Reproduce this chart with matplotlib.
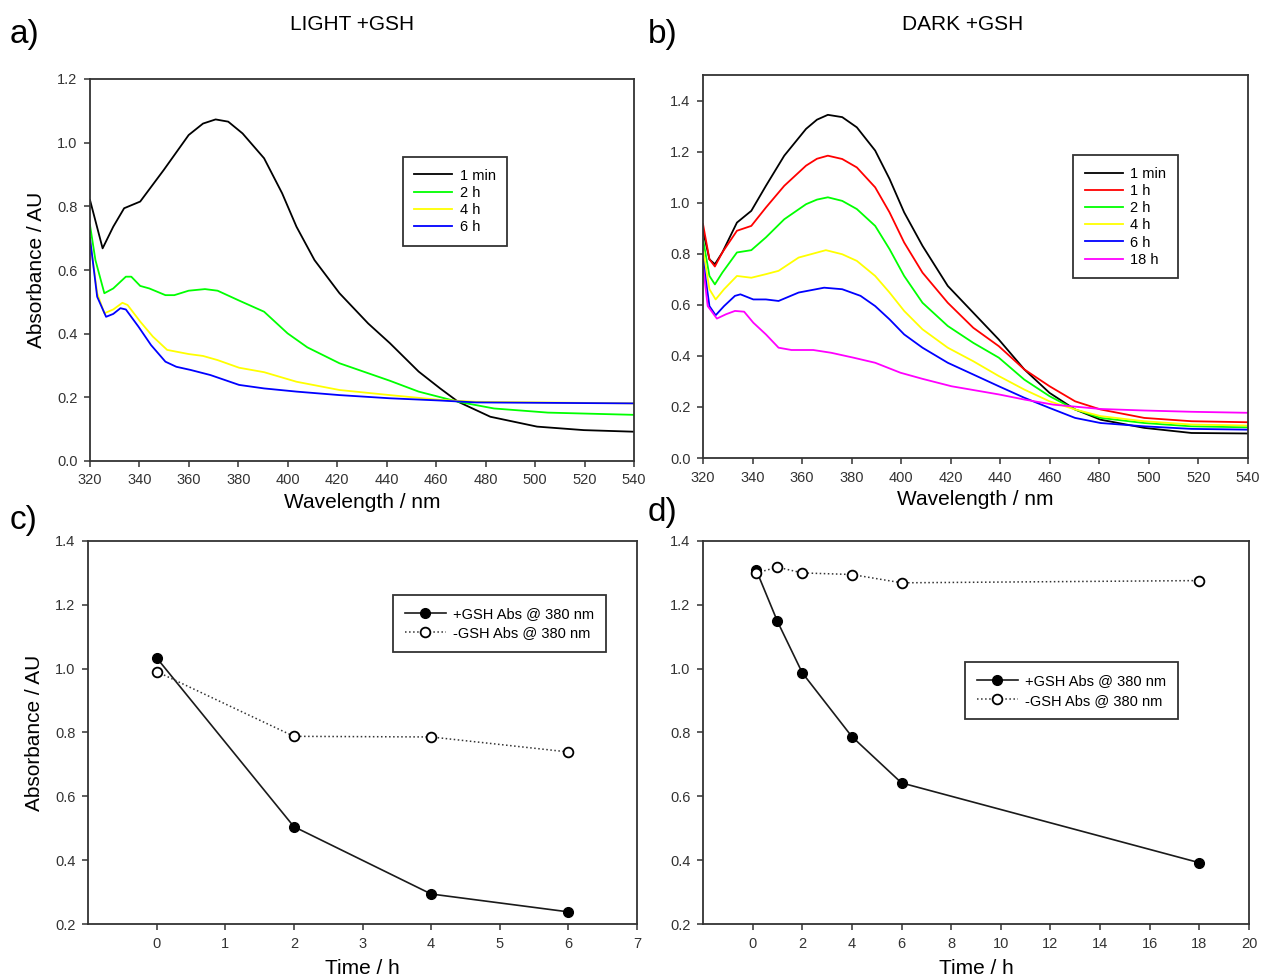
#! /usr/bin/env python3

#A program for plotting the GSH absorbance spectra and the 380 nm decay.

import matplotlib
matplotlib.use('Agg')
import matplotlib.pyplot as plt

#Panel a) LIGHT +GSH spectra.
lightWl1min = [320, 325.1, 329.4, 333.8, 340.3, 349.8, 359.9, 365.7, 370.8, 375.9, 381.7, 390.4,
               397.7, 403.5, 410.8, 420.9, 432.5, 441.3, 452.9, 461.6, 468.9, 481.9, 500.8,
               519.7, 540]
lightAbs1min = [0.82, 0.668, 0.736, 0.794, 0.815, 0.914, 1.024, 1.060, 1.073, 1.066, 1.029, 0.951,
                0.841, 0.736, 0.631, 0.527, 0.432, 0.370, 0.281, 0.228, 0.186, 0.139, 0.108,
                0.097, 0.092]

lightWl2h = [320, 322.2, 325.8, 329.4, 334.5, 336.7, 340.3, 344, 350.5, 354.1, 359.9, 366.5,
             371.6, 380.3, 390.4, 399.9, 407.9, 420.9, 441.3, 452.9, 468.9, 483.4, 505.2, 540]
lightAbs2h = [0.741, 0.631, 0.527, 0.542, 0.579, 0.579, 0.55, 0.542, 0.521, 0.521, 0.535, 0.540,
              0.535, 0.504, 0.469, 0.401, 0.357, 0.307, 0.252, 0.218, 0.186, 0.165, 0.152, 0.145]

lightWl4h = [320, 322.9, 325.8, 329.4, 333.1, 335.2, 340.3, 345.4, 351.2, 359.9, 365.7, 371.6,
             380.3, 390.4, 403.5, 420.9, 441.3, 461.6, 476.1, 540]
lightAbs4h = [0.694, 0.527, 0.464, 0.476, 0.497, 0.49, 0.438, 0.391, 0.349, 0.336, 0.33, 0.317,
              0.293, 0.279, 0.249, 0.223, 0.207, 0.192, 0.186, 0.181]

lightWl6h = [320, 322.9, 326.5, 329.4, 332.3, 334.5, 339.6, 344.7, 350.5, 354.9, 360.7, 368.7,
             380.3, 390.4, 403.5, 420.9, 441.3, 461.6, 476.1, 540]
lightAbs6h = [0.70, 0.516, 0.453, 0.462, 0.48, 0.476, 0.422, 0.364, 0.312, 0.296, 0.286, 0.27,
              0.239, 0.228, 0.218, 0.207, 0.197, 0.19, 0.184, 0.181]

#Panel b) DARK +GSH spectra.
darkWl = [320, 322.6, 324.8, 327.8, 333.7, 339.5, 345.4, 352.8, 361.6, 366.0, 370.4, 376.2,
          382.1, 389.5, 395.3, 401.2, 408.6, 418.8, 429.1, 439.4, 449.7, 459.9, 470.2, 480.5,
          498.1, 517.2, 540]
darkAbs1min = [0.89, 0.778, 0.759, 0.805, 0.922, 0.968, 1.066, 1.184, 1.289, 1.325, 1.344, 1.335,
               1.295, 1.204, 1.093, 0.962, 0.831, 0.674, 0.569, 0.464, 0.347, 0.255, 0.19, 0.15,
               0.118, 0.098, 0.096]
darkAbs1h = [0.916, 0.778, 0.75, 0.805, 0.89, 0.909, 0.981, 1.066, 1.145, 1.172, 1.184, 1.171,
             1.138, 1.06, 0.962, 0.844, 0.726, 0.608, 0.51, 0.438, 0.347, 0.281, 0.222, 0.19,
             0.157, 0.144, 0.14]
darkAbs2h = [0.857, 0.713, 0.68, 0.726, 0.805, 0.814, 0.864, 0.935, 0.994, 1.012, 1.021, 1.007,
             0.975, 0.909, 0.818, 0.713, 0.608, 0.517, 0.451, 0.393, 0.307, 0.242, 0.19, 0.157,
             0.137, 0.124, 0.12]

darkWl4h = [320, 322.6, 325.1, 328.5, 333.7, 339.5, 345.4, 350.5, 358.6, 369.6, 376.2, 382.1,
            389.5, 395.3, 401.2, 408.6, 418.8, 429.1, 439.4, 449.7, 459.9, 470.2, 480.5, 498.1,
            517.2, 540]
darkAbs4h = [0.818, 0.661, 0.621, 0.661, 0.713, 0.706, 0.72, 0.733, 0.785, 0.814, 0.798, 0.772,
             0.713, 0.648, 0.576, 0.504, 0.432, 0.379, 0.321, 0.268, 0.222, 0.19, 0.164, 0.144,
             0.131, 0.127]

darkWl6h = [320, 322.6, 325.1, 328.5, 332.9, 335.1, 340.3, 345.4, 350.5, 358.6, 368.9, 376.2,
            383.6, 389.5, 395.3, 401.2, 408.6, 418.8, 429.1, 439.4, 449.7, 459.9, 470.2, 480.5,
            498.1, 517.2, 540]
darkAbs6h = [0.778, 0.595, 0.559, 0.595, 0.635, 0.641, 0.621, 0.621, 0.615, 0.648, 0.667, 0.661,
             0.635, 0.595, 0.543, 0.484, 0.432, 0.373, 0.327, 0.281, 0.236, 0.196, 0.157, 0.137,
             0.124, 0.114, 0.111]

darkWl18h = [320, 321.9, 325.6, 329.3, 332.9, 336.6, 340.3, 345.4, 350.5, 355.7, 364.5, 371.8,
             380.7, 389.5, 399.7, 408.6, 420.3, 439.4, 449.7, 461.4, 480.5, 498.1, 517.2, 540]
darkAbs18h = [0.752, 0.595, 0.546, 0.563, 0.576, 0.573, 0.53, 0.484, 0.432, 0.423, 0.423, 0.412,
              0.393, 0.373, 0.334, 0.31, 0.281, 0.249, 0.229, 0.209, 0.192, 0.186, 0.181, 0.177]

#Panel c) light, absorbance at 380 nm.
lightTime = [0, 2, 4, 6]
lightPlusGSH = [1.034, 0.505, 0.294, 0.238]
lightMinusGSH = [0.991, 0.788, 0.786, 0.739]

#Panel d) dark, absorbance at 380 nm.
darkTime = [0.15, 1, 2, 4, 6, 18]
darkPlusGSH = [1.308, 1.148, 0.987, 0.787, 0.642, 0.392]
darkMinusGSH = [1.30, 1.318, 1.30, 1.295, 1.269, 1.276]

lightLabels = ['1 min', '2 h', '4 h', '6 h']
darkLabels = ['1 min', '1 h', '2 h', '4 h', '6 h', '18 h']
plusLabel = '+GSH Abs @ 380 nm'
minusLabel = '-GSH Abs @ 380 nm'


def styleAxes(ax) :
  #Dark frame all round, ticks out on left and bottom only.
  for side in ['top', 'bottom', 'left', 'right'] :
    ax.spines[side].set_color('#333333')
    ax.spines[side].set_linewidth(1.3)
  ax.tick_params(direction = 'out', length = 4, width = 1.1, color = '#333333', pad = 5,
                 labelsize = 10.5, labelcolor = '#333333', top = False, right = False)


def main() :
  plt.rcParams['font.family'] = ['Liberation Sans', 'DejaVu Sans']

  fig = plt.figure(figsize = (12.63, 9.80), dpi = 100)

  #Axes positions in figure fractions.
  axA = fig.add_axes([90/1263, 1 - 461/980, 544/1263, 382/980])
  axB = fig.add_axes([703/1263, 1 - 458/980, 545/1263, 383/980])
  axC = fig.add_axes([88/1263, 1 - 924/980, 549/1263, 383/980])
  axD = fig.add_axes([703/1263, 1 - 924/980, 546/1263, 383/980])

  legendKw = dict(loc = 'upper left', fontsize = 10.5, fancybox = False, framealpha = 1,
                  edgecolor = '#333333', borderaxespad = 0, handletextpad = 0.5,
                  borderpad = 0.8)

  #Panel a.
  lw = 1.3
  axA.plot(lightWl1min, lightAbs1min, color = 'black', lw = lw, label = lightLabels[0])
  axA.plot(lightWl2h, lightAbs2h, color = '#00ff00', lw = lw, label = lightLabels[1])
  axA.plot(lightWl4h, lightAbs4h, color = '#ffff00', lw = lw, label = lightLabels[2])
  axA.plot(lightWl6h, lightAbs6h, color = '#0000ff', lw = lw, label = lightLabels[3])
  axA.set_xlim(320, 540)
  axA.set_ylim(0, 1.2)
  axA.set_xticks(range(320, 541, 20))
  axA.set_yticks([0.0, 0.2, 0.4, 0.6, 0.8, 1.0, 1.2])
  axA.yaxis.set_major_formatter(matplotlib.ticker.FormatStrFormatter('%.1f'))
  axA.set_xlabel('Wavelength / nm', fontsize = 15, labelpad = 4)
  axA.set_ylabel('Absorbance / AU', fontsize = 15, labelpad = 8)
  styleAxes(axA)
  leg = axA.legend(bbox_to_anchor = (0.575, 0.796), handlelength = 2.6, labelspacing = 0.22,
                   **legendKw)
  leg.get_frame().set_linewidth(1.3)

  #Panel b.
  axB.plot(darkWl, darkAbs1min, color = 'black', lw = lw, label = darkLabels[0])
  axB.plot(darkWl, darkAbs1h, color = '#ff0000', lw = lw, label = darkLabels[1])
  axB.plot(darkWl, darkAbs2h, color = '#00ff00', lw = lw, label = darkLabels[2])
  axB.plot(darkWl4h, darkAbs4h, color = '#ffff00', lw = lw, label = darkLabels[3])
  axB.plot(darkWl6h, darkAbs6h, color = '#0000ff', lw = lw, label = darkLabels[4])
  axB.plot(darkWl18h, darkAbs18h, color = '#ff00ff', lw = lw, label = darkLabels[5])
  axB.set_xlim(320, 540)
  axB.set_ylim(0, 1.5)
  axB.set_xticks(range(320, 541, 20))
  axB.set_yticks([0.0, 0.2, 0.4, 0.6, 0.8, 1.0, 1.2, 1.4])
  axB.yaxis.set_major_formatter(matplotlib.ticker.FormatStrFormatter('%.1f'))
  axB.set_xlabel('Wavelength / nm', fontsize = 15, labelpad = 4)
  styleAxes(axB)
  leg = axB.legend(bbox_to_anchor = (0.679, 0.791), handlelength = 2.6, labelspacing = 0.22,
                   **legendKw)
  leg.get_frame().set_linewidth(1.3)

  #Panels c and d share the marker style.
  for ax, t, plus, minus in [(axC, lightTime, lightPlusGSH, lightMinusGSH),
                             (axD, darkTime, darkPlusGSH, darkMinusGSH)] :
    ax.plot(t, plus, '-o', color = '#1a1a1a', lw = 1.2, ms = 7, mfc = 'black',
            mec = 'black', label = plusLabel, zorder = 3)
    ax.plot(t, minus, ':o', color = '#333333', lw = 1.1, ms = 7, mfc = 'white',
            mec = 'black', mew = 1.3, label = minusLabel, zorder = 4)
    ax.set_ylim(0.2, 1.4)
    ax.set_yticks([0.2, 0.4, 0.6, 0.8, 1.0, 1.2, 1.4])
    ax.yaxis.set_major_formatter(matplotlib.ticker.FormatStrFormatter('%.1f'))
    ax.set_xlabel('Time / h', fontsize = 15, labelpad = 6)
    styleAxes(ax)

  axC.set_xlim(-1, 7)
  axC.set_xticks(range(0, 8))
  axC.set_ylabel('Absorbance / AU', fontsize = 15, labelpad = 8)
  leg = axC.legend(bbox_to_anchor = (0.556, 0.859), handlelength = 2.8, labelspacing = 0.4,
                   **legendKw)
  leg.get_frame().set_linewidth(1.3)

  axD.set_xlim(-2, 20)
  axD.set_xticks(range(0, 21, 2))
  leg = axD.legend(bbox_to_anchor = (0.48, 0.684), handlelength = 2.8, labelspacing = 0.4,
                   **legendKw)
  leg.get_frame().set_linewidth(1.3)

  #Panel letters and titles.
  fig.text(10/1263, 1 - 35/980, 'a)', fontsize = 24, va = 'center', ha = 'left')
  fig.text(648/1263, 1 - 35/980, 'b)', fontsize = 24, va = 'center', ha = 'left')
  fig.text(10/1263, 1 - 520/980, 'c)', fontsize = 24, va = 'center', ha = 'left')
  fig.text(648/1263, 1 - 513/980, 'd)', fontsize = 24, va = 'center', ha = 'left')
  fig.text(352/1263, 1 - 25/980, 'LIGHT +GSH', fontsize = 15, va = 'center', ha = 'center')
  fig.text(963/1263, 1 - 25/980, 'DARK +GSH', fontsize = 15, va = 'center', ha = 'center')

  fig.savefig('out.png', dpi = 100)

# Standard boilerplate to call the main() function to begin
# the program.
if __name__ == '__main__':
  main()
